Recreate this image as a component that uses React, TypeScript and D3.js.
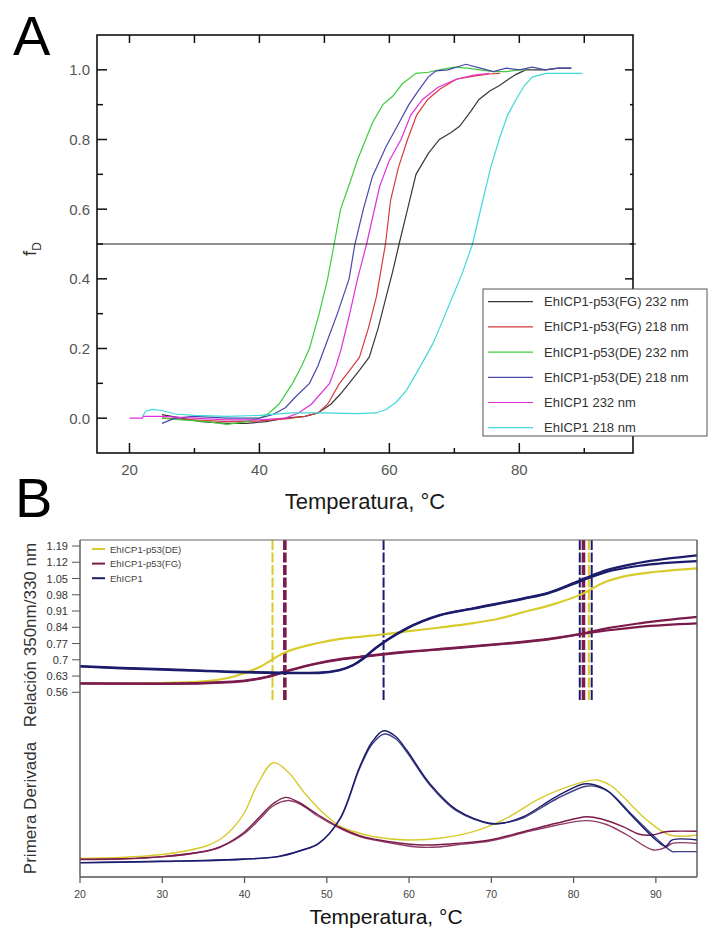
import React from 'react';
import * as d3 from 'd3';

type Pt = [number, number];

// ---- Panel A: fraction denatured (CD) ----
const fgT232: Pt[] = [[25, 0.01], [28, 0.0], [31, -0.01], [35, -0.015], [38, -0.015], [41, -0.01], [44, 0.0], [47, 0.005], [49, 0.015], [51, 0.04], [52.5, 0.07], [53.8, 0.1], [55.5, 0.14], [56.9, 0.175], [58.3, 0.26], [59.5, 0.348], [60.5, 0.42], [61.5, 0.5], [62.8, 0.6], [64.1, 0.7], [66, 0.76], [67.7, 0.8], [69.5, 0.82], [70.8, 0.838], [72.5, 0.88], [73.8, 0.915], [75.5, 0.94], [76.9, 0.954], [78.5, 0.975], [79.5, 0.987], [81, 1.0], [84, 1.0], [86, 1.005], [88, 1.005]];
const fgT218: Pt[] = [[25, 0.0], [30, -0.005], [35, -0.01], [40, -0.008], [44, -0.002], [47, 0.005], [49, 0.015], [50.5, 0.04], [52.3, 0.099], [54, 0.14], [55.4, 0.175], [56.8, 0.26], [58, 0.348], [59.4, 0.5], [60.2, 0.627], [61.4, 0.72], [62.8, 0.8], [64.2, 0.87], [65.9, 0.915], [67.8, 0.945], [70.3, 0.973], [73, 0.982], [75.4, 0.988], [77, 0.99]];
const deT232: Pt[] = [[25, 0.0], [28, -0.005], [32, -0.01], [35, -0.018], [38, -0.01], [40, 0.0], [41.5, 0.015], [43, 0.04], [45.1, 0.1], [46.5, 0.15], [47.7, 0.2], [49.2, 0.3], [50.5, 0.4], [51.5, 0.5], [52.5, 0.6], [54, 0.68], [55.1, 0.742], [57.4, 0.848], [59, 0.9], [60.5, 0.924], [62, 0.96], [64.1, 0.99], [66, 0.993], [67.7, 1.0], [70, 1.008], [72, 1.005], [74, 1.0], [76, 0.995], [78, 0.995], [80, 1.0], [81, 1.0]];
const deT218: Pt[] = [[25, -0.015], [27, 0.0], [30, 0.005], [35, 0.0], [40, 0.0], [42, 0.01], [44, 0.03], [45.5, 0.06], [47.7, 0.1], [49, 0.15], [50, 0.2], [52, 0.3], [53.8, 0.4], [54.7, 0.5], [56, 0.6], [57.4, 0.694], [59.5, 0.78], [61.5, 0.848], [63, 0.9], [64.6, 0.944], [66, 0.98], [67.2, 0.997], [69, 1.0], [71.8, 1.016], [74, 1.005], [76, 0.995], [78, 1.005], [80, 1.0], [82, 1.008], [84, 1.0], [86, 1.005], [88, 1.005]];
const cpT232: Pt[] = [[20, 0.0], [22, 0.0], [22.1, 0.005], [25, 0.005], [30, 0.0], [35, -0.005], [40, -0.005], [44, 0.0], [46, 0.015], [48, 0.04], [50.8, 0.1], [51.8, 0.15], [52.6, 0.2], [53.9, 0.3], [55.1, 0.4], [56.5, 0.5], [58.5, 0.665], [60, 0.74], [61.8, 0.8], [63.3, 0.87], [65.1, 0.915], [67.5, 0.95], [70.3, 0.973], [73, 0.985], [75.4, 0.99]];
const cpT218: Pt[] = [[22, 0.005], [22.5, 0.02], [23.5, 0.025], [25, 0.022], [27, 0.012], [30, 0.008], [35, 0.005], [40, 0.008], [45, 0.015], [50, 0.015], [55, 0.013], [58, 0.015], [59.5, 0.025], [61, 0.045], [62.6, 0.079], [64.5, 0.14], [66.7, 0.214], [68.2, 0.28], [69.7, 0.348], [71.3, 0.42], [72.8, 0.5], [74.4, 0.627], [75.6, 0.72], [76.9, 0.8], [78.2, 0.87], [79.5, 0.915], [80.8, 0.955], [82, 0.979], [84.1, 0.99], [87, 0.99], [89.7, 0.99]];

const seriesA = [
  { name: 'EhICP1-p53(FG) 232 nm', color: '#383838', data: fgT232 },
  { name: 'EhICP1-p53(FG) 218 nm', color: '#d83b3b', data: fgT218 },
  { name: 'EhICP1-p53(DE) 232 nm', color: '#3fcc3f', data: deT232 },
  { name: 'EhICP1-p53(DE) 218 nm', color: '#4848a8', data: deT218 },
  { name: 'EhICP1 232 nm', color: '#e030d8', data: cpT232 },
  { name: 'EhICP1 218 nm', color: '#40d8dc', data: cpT218 },
];
const xMajorA = [20, 40, 60, 80];
const xMinorA = [30, 50, 70, 90];
const yMajorA = [0, 0.2, 0.4, 0.6, 0.8, 1.0];
const yMinorA = [0.1, 0.3, 0.5, 0.7, 0.9];

// ---- Panel B: fluorescence ratio and first derivative ----
const ratioDE: Pt[] = [[20, 0.6], [25, 0.598], [30, 0.6], [34.6, 0.606], [38.6, 0.627], [41.9, 0.67], [44.7, 0.728], [48.8, 0.771], [51.6, 0.79], [54, 0.799], [57, 0.81], [59.7, 0.822], [63.5, 0.838], [67.8, 0.858], [71, 0.878], [73.9, 0.905], [77.9, 0.943], [81.2, 0.986], [83.5, 1.03], [86, 1.058], [90, 1.079], [95, 1.094]];
const ratioFG1: Pt[] = [[20, 0.599], [30, 0.598], [38.6, 0.606], [42.7, 0.627], [45.5, 0.656], [48.8, 0.685], [51.6, 0.703], [54, 0.713], [59.7, 0.735], [65, 0.75], [71.8, 0.771], [77, 0.79], [81.2, 0.814], [84, 0.835], [88, 0.857], [95, 0.885]];
const ratioFG2: Pt[] = [[20, 0.597], [30, 0.596], [38.6, 0.604], [42.7, 0.625], [45.5, 0.654], [48.8, 0.683], [51.6, 0.701], [54, 0.711], [59.7, 0.733], [65, 0.748], [71.8, 0.769], [77, 0.788], [81.2, 0.812], [84, 0.826], [88, 0.842], [95, 0.857]];
const ratioCP1: Pt[] = [[20, 0.673], [25, 0.665], [30, 0.66], [38.6, 0.649], [46.7, 0.644], [49, 0.645], [51.5, 0.656], [53.2, 0.678], [54.5, 0.708], [55.6, 0.742], [57.5, 0.79], [59.7, 0.836], [63.7, 0.893], [67.8, 0.922], [73.9, 0.965], [77, 0.99], [79.9, 1.029], [82, 1.06], [84, 1.086], [88, 1.118], [95, 1.15]];
const ratioCP2: Pt[] = [[20, 0.671], [25, 0.663], [30, 0.658], [38.6, 0.647], [46.7, 0.642], [49, 0.643], [51.5, 0.654], [53.2, 0.676], [54.5, 0.706], [55.6, 0.74], [57.5, 0.788], [59.7, 0.834], [63.7, 0.891], [67.8, 0.92], [73.9, 0.962], [77, 0.987], [79.9, 1.025], [82, 1.054], [84, 1.078], [88, 1.105], [95, 1.125]];

const derivDE: Pt[] = [[20, 0.124], [25, 0.13], [30, 0.15], [33, 0.175], [35.5, 0.21], [37, 0.25], [38.5, 0.32], [40, 0.43], [41.6, 0.62], [43.5, 0.762], [45.3, 0.7], [47.3, 0.56], [49.5, 0.43], [51.6, 0.34], [53.5, 0.3], [55.6, 0.27], [59.7, 0.247], [63.7, 0.258], [67.8, 0.302], [71.8, 0.391], [75.9, 0.524], [79.9, 0.613], [82.8, 0.647], [84.5, 0.61], [86, 0.536], [88.9, 0.38], [91.7, 0.28], [95, 0.28]];
const derivFG1: Pt[] = [[20, 0.118], [25, 0.122], [30, 0.136], [35, 0.17], [37, 0.2], [40, 0.3], [42, 0.41], [43.5, 0.49], [45, 0.531], [46.5, 0.5], [48.8, 0.42], [51.6, 0.33], [54, 0.275], [56, 0.25], [59, 0.225], [61, 0.215], [63.5, 0.215], [65.8, 0.224], [69.8, 0.247], [73.9, 0.302], [77.9, 0.358], [81.6, 0.402], [83.5, 0.385], [86, 0.336], [88, 0.285], [89.5, 0.28], [91, 0.3], [92, 0.305], [95, 0.305]];
const derivFG2: Pt[] = [[20, 0.116], [25, 0.12], [30, 0.134], [35, 0.168], [37, 0.198], [40, 0.29], [42, 0.395], [43.5, 0.475], [45.3, 0.51], [46.8, 0.485], [48.8, 0.41], [51.6, 0.325], [54, 0.27], [56, 0.245], [59, 0.215], [61, 0.2], [63.5, 0.2], [65.8, 0.215], [69.8, 0.24], [73.9, 0.295], [77.9, 0.345], [81.6, 0.376], [84, 0.35], [86.5, 0.28], [89.7, 0.18], [91.3, 0.2], [92, 0.224], [95, 0.224]];
const derivCP1: Pt[] = [[20, 0.096], [25, 0.1], [30, 0.105], [35, 0.11], [40, 0.12], [44, 0.136], [47, 0.18], [49, 0.224], [51.6, 0.39], [54, 0.735], [55.5, 0.9], [56.9, 0.975], [58.3, 0.94], [59.7, 0.847], [62.5, 0.624], [65.8, 0.447], [69.8, 0.358], [71.5, 0.36], [73.9, 0.402], [77.9, 0.536], [81.2, 0.62], [82.5, 0.615], [84, 0.58], [86.8, 0.424], [90, 0.247], [91.2, 0.205], [92, 0.247], [95, 0.247]];
const derivCP2: Pt[] = [[20, 0.094], [25, 0.098], [30, 0.103], [35, 0.108], [40, 0.118], [44, 0.134], [47, 0.178], [49, 0.222], [51.6, 0.385], [54, 0.725], [55.5, 0.885], [57, 0.953], [58.4, 0.92], [59.7, 0.835], [62.5, 0.615], [65.8, 0.44], [69.8, 0.355], [71.5, 0.36], [73.9, 0.395], [77.9, 0.52], [81.5, 0.605], [83, 0.6], [84.5, 0.56], [87, 0.42], [90, 0.26], [92, 0.169], [92.5, 0.169], [95, 0.169]];

const tmDE = [43.4, 81.85];
const tmFG = [44.9, 81.2];
const tmCP1 = [56.9, 80.75, 82.2];

const colDE = '#d8cb2c';
const colFG = '#7b1b4c';
const colCP1 = '#1c1c6c';

const seriesB = [
  { name: 'EhICP1-p53(DE)', color: colDE, ratio: [ratioDE], deriv: [derivDE], tm: tmDE, tmWidth: 2 },
  { name: 'EhICP1-p53(FG)', color: colFG, ratio: [ratioFG1, ratioFG2], deriv: [derivFG1, derivFG2], tm: tmFG, tmWidth: 3.6 },
  { name: 'EhICP1', color: colCP1, ratio: [ratioCP1, ratioCP2], deriv: [derivCP1, derivCP2], tm: tmCP1, tmWidth: 2 },
];
const yTicksB = [0.56, 0.63, 0.7, 0.77, 0.84, 0.91, 0.98, 1.05, 1.12, 1.19];
const xTicksB = [20, 30, 40, 50, 60, 70, 80, 90];

const App = () => {
  // Panel A scales
  const xA = d3.scaleLinear().domain([15, 97.5]).range([97, 633]);
  const yA = d3.scaleLinear().domain([-0.1, 1.1]).range([453, 35]);
  const lineA = d3.line<Pt>().x(d => xA(d[0])).y(d => yA(d[1]));

  // Panel B scales
  const xB = d3.scaleLinear().domain([20, 95]).range([80, 697]);
  const yB = d3.scaleLinear().domain([0.56, 1.19]).range([692.3, 546]);
  const yD = d3.scaleLinear().domain([0, 1]).range([877, 727]);
  const lineR = d3.line<Pt>().x(d => xB(d[0])).y(d => yB(d[1])).curve(d3.curveMonotoneX);
  const lineD = d3.line<Pt>().x(d => xB(d[0])).y(d => yD(d[1])).curve(d3.curveCatmullRom.alpha(0.5));

  const [aL, aR] = xA.range();
  const [aB, aT] = yA.range();
  const [bL, bR] = xB.range();
  const bTop = 540;
  const bBot = yD.range()[0];

  return (
    <svg width={708} height={929} style={{ position: 'absolute', left: 0, top: 0, background: '#fff' }}
      fontFamily="Liberation Sans, Arial, sans-serif">
      {/* ===== Panel A ===== */}
      <text x={13} y={55} fontSize={56} fill="#000">A</text>
      <defs>
        <clipPath id="clipA"><rect x={aL} y={aT} width={aR - aL} height={aB - aT} /></clipPath>
      </defs>
      <g clipPath="url(#clipA)">
        {seriesA.map(s => (
          <path key={s.name} d={lineA(s.data) || ''} fill="none" stroke={s.color} strokeWidth={1.2} />
        ))}
      </g>
      <line x1={aL} x2={aR + 3} y1={yA(0.5)} y2={yA(0.5)} stroke="#222" strokeWidth={1} />
      <rect x={aL} y={aT} width={aR - aL} height={aB - aT} fill="none" stroke="#111" strokeWidth={1.6} />
      {xMajorA.map(t => (
        <g key={'xa' + t}>
          <line x1={xA(t)} x2={xA(t)} y1={aB} y2={aB - 10} stroke="#111" strokeWidth={1.5} />
          <line x1={xA(t)} x2={xA(t)} y1={aT} y2={aT + 8} stroke="#111" strokeWidth={1.5} />
          <text x={xA(t)} y={475} fontSize={15} fill="#555" textAnchor="middle">{t}</text>
        </g>
      ))}
      {xMinorA.map(t => (
        <g key={'xm' + t}>
          <line x1={xA(t)} x2={xA(t)} y1={aB} y2={aB - 5} stroke="#111" strokeWidth={1.5} />
          <line x1={xA(t)} x2={xA(t)} y1={aT} y2={aT + 8} stroke="#111" strokeWidth={1.5} />
        </g>
      ))}
      {yMajorA.map(t => (
        <g key={'ya' + t}>
          <line x1={aL} x2={aL + 10} y1={yA(t)} y2={yA(t)} stroke="#111" strokeWidth={1.5} />
          <line x1={aR} x2={aR - 8} y1={yA(t)} y2={yA(t)} stroke="#111" strokeWidth={1.5} />
          <text x={90} y={yA(t) + 5.5} fontSize={15} fill="#555" textAnchor="end">{t.toFixed(1)}</text>
        </g>
      ))}
      {yMinorA.map(t => (
        <g key={'ym' + t}>
          <line x1={aL} x2={aL + 6} y1={yA(t)} y2={yA(t)} stroke="#111" strokeWidth={1.5} />
          <line x1={aR} x2={aR - 3} y1={yA(t)} y2={yA(t)} stroke="#111" strokeWidth={1.5} />
        </g>
      ))}
      <text transform="translate(36,249) rotate(-90)" fontSize={19} fill="#333" textAnchor="middle">
        f<tspan fontSize={12} dy={5}>D</tspan>
      </text>
      <text x={365} y={509} fontSize={22} fill="#1a1a1a" textAnchor="middle">Temperatura, °C</text>

      {/* legend A */}
      <rect x={483} y={289} width={224} height={147} fill="#fff" stroke="#555" strokeWidth={1} />
      {seriesA.map((s, i) => (
        <g key={'la' + i} transform={`translate(0,${301.7 + i * 25.2})`}>
          <line x1={488} x2={533} y1={0} y2={0} stroke={s.color} strokeWidth={1.2} />
          <text x={544} y={4.5} fontSize={13} fill="#333">{s.name}</text>
        </g>
      ))}

      {/* ===== Panel B ===== */}
      <text x={15} y={517} fontSize={56} fill="#000">B</text>

      {/* vertical Tm markers */}
      {seriesB.map(s => s.tm.map((t, i) => (
        <line key={s.name + 'tm' + i} x1={xB(t)} x2={xB(t)} y1={bTop} y2={700}
          stroke={s.color} strokeWidth={s.tmWidth} strokeDasharray="10,2.5" />
      )))}

      {/* ratio curves */}
      {seriesB.map(s => s.ratio.map((r, i) => (
        <path key={s.name + 'r' + i} d={lineR(r) || ''} fill="none" stroke={s.color} strokeWidth={2.2} />
      )))}
      {/* derivative curves */}
      {seriesB.map(s => s.deriv.map((r, i) => (
        <path key={s.name + 'd' + i} d={lineD(r) || ''} fill="none" stroke={s.color} strokeWidth={1.4}
          opacity={i === 0 ? 1 : 0.85} />
      )))}

      {/* frame */}
      <line x1={bL} x2={bR} y1={bTop} y2={bTop} stroke="#666" strokeWidth={1.2} />
      <line x1={bR} x2={bR} y1={bTop} y2={bBot} stroke="#555" strokeWidth={1.4} />
      <line x1={bL} x2={bL} y1={bTop} y2={bBot} stroke="#555" strokeWidth={1.4} />
      <line x1={bL} x2={bR} y1={bBot} y2={bBot} stroke="#555" strokeWidth={1.4} />

      {yTicksB.map(t => (
        <g key={'yb' + t}>
          <line x1={bL - 8} x2={bL} y1={yB(t)} y2={yB(t)} stroke="#555" strokeWidth={1} />
          <text x={68} y={yB(t) + 4} fontSize={11} fill="#333" textAnchor="end"
            fontFamily="Liberation Sans Narrow, Arial Narrow, Liberation Sans, sans-serif">{String(t)}</text>
        </g>
      ))}
      {xTicksB.map(t => (
        <g key={'xb' + t}>
          <line x1={xB(t)} x2={xB(t)} y1={bBot} y2={bBot + 6} stroke="#555" strokeWidth={1.2} />
          <text x={xB(t)} y={898} fontSize={10.5} fill="#444" textAnchor="middle">{t}</text>
        </g>
      ))}

      {/* legend B */}
      {seriesB.map((s, i) => (
        <g key={'lb' + i} transform={`translate(0,${549 + i * 14.6})`}>
          <line x1={92} x2={105} y1={0} y2={0} stroke={s.color} strokeWidth={2} />
          <text x={110} y={3.5} fontSize={9.5} fill="#444">{s.name}</text>
        </g>
      ))}

      <text transform="translate(36,635) rotate(-90)" fontSize={17} fill="#333" textAnchor="middle">Relación 350nm/330 nm</text>
      <text transform="translate(36,808) rotate(-90)" fontSize={17} fill="#333" textAnchor="middle">Primera Derivada</text>
      <text x={386} y={924} fontSize={21} fill="#111" textAnchor="middle">Temperatura, °C</text>
    </svg>
  );
};

export default App;
